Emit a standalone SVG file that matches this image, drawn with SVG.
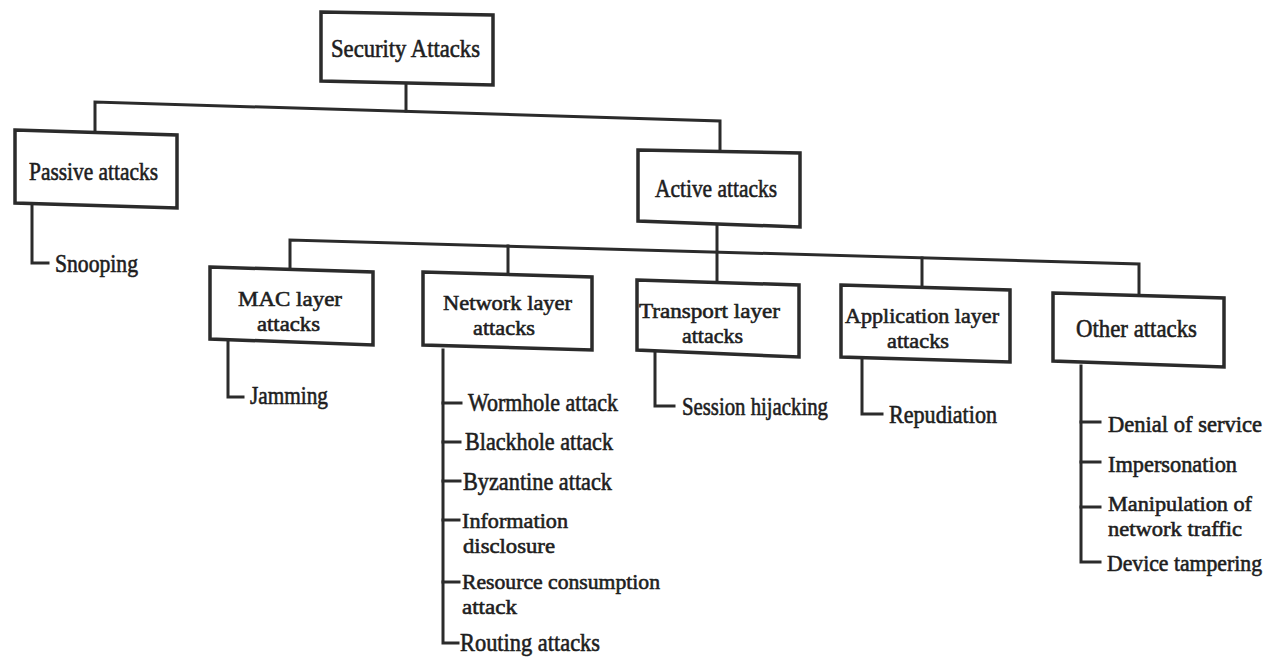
<svg xmlns="http://www.w3.org/2000/svg" width="1273" height="660" viewBox="0 0 1273 660">
<style>
.box{fill:#fff;stroke:#2b2b2b;stroke-width:3.5;stroke-linejoin:miter}
.ln{fill:none;stroke:#2b2b2b;stroke-width:3;stroke-linejoin:miter;stroke-linecap:square}
text{font-family:"Liberation Serif","Times New Roman",serif;font-size:25px;fill:#1e1e1e;stroke:#1e1e1e;stroke-width:0.6}
text.sm{font-size:23px}
text.two{font-size:22px}
</style>
<rect width="1273" height="660" fill="#fff"/>
<g id="connectors">
<polyline class="ln" points="406,84 406,111"/>
<polyline class="ln" points="95,131 95,102 720,121 720,151"/>
<polyline class="ln" points="717,224 717,282"/>
<polyline class="ln" points="290,268 290,240 1139,264 1139,294"/>
<polyline class="ln" points="508,246 508,273"/>
<polyline class="ln" points="922,258 922,287"/>
<polyline class="ln" points="32,206 32,263 48,263"/>
<polyline class="ln" points="228,342 228,397 243,397"/>
<polyline class="ln" points="443,350 443,643 458,643"/>
<polyline class="ln" points="443,403 461,403"/>
<polyline class="ln" points="443,442 460,442"/>
<polyline class="ln" points="443,481 460,481"/>
<polyline class="ln" points="443,520 459,520"/>
<polyline class="ln" points="443,582 459,582"/>
<polyline class="ln" points="655,352 655,406 674,406"/>
<polyline class="ln" points="862,360 862,414 882,414"/>
<polyline class="ln" points="1081,366 1081,562 1100,562"/>
<polyline class="ln" points="1081,422 1100,422"/>
<polyline class="ln" points="1081,462 1100,462"/>
<polyline class="ln" points="1081,507 1100,507"/>
</g>
<g id="security-attacks">
<polygon class="box" points="321,12 493,15 493,85 321,81"/>
<text x="331" y="57" textLength="149" lengthAdjust="spacingAndGlyphs">Security Attacks</text>
</g>
<g id="passive-attacks">
<polygon class="box" points="15,130 177,135 177,208 15,203"/>
<text x="29" y="180" textLength="129" lengthAdjust="spacingAndGlyphs">Passive attacks</text>
</g>
<g id="snooping">
<text x="55" y="272" textLength="83" lengthAdjust="spacingAndGlyphs">Snooping</text>
</g>
<g id="active-attacks">
<polygon class="box" points="638,150 800,153 800,227 638,221"/>
<text x="655" y="197" textLength="122" lengthAdjust="spacingAndGlyphs">Active attacks</text>
</g>
<g id="mac-layer">
<polygon class="box" points="210,267 373,272 373,345 210,339"/>
<text class="two"><tspan x="238" y="306" textLength="104" lengthAdjust="spacingAndGlyphs">MAC layer</tspan><tspan x="257" y="331" textLength="63" lengthAdjust="spacingAndGlyphs">attacks</tspan></text>
</g>
<g id="jamming">
<text x="250" y="404" textLength="78" lengthAdjust="spacingAndGlyphs">Jamming</text>
</g>
<g id="network-layer">
<polygon class="box" points="423,272 592,277 592,350 423,345"/>
<text class="two"><tspan x="443" y="310" textLength="129" lengthAdjust="spacingAndGlyphs">Network layer</tspan><tspan x="473" y="335" textLength="62" lengthAdjust="spacingAndGlyphs">attacks</tspan></text>
</g>
<g id="network-items">
<text x="468" y="411" textLength="150" lengthAdjust="spacingAndGlyphs">Wormhole attack</text>
<text x="465" y="450" textLength="148" lengthAdjust="spacingAndGlyphs">Blackhole attack</text>
<text x="463" y="490" textLength="149" lengthAdjust="spacingAndGlyphs">Byzantine attack</text>
<text class="two"><tspan x="462" y="528" textLength="106" lengthAdjust="spacingAndGlyphs">Information</tspan><tspan x="463" y="553" textLength="92" lengthAdjust="spacingAndGlyphs">disclosure</tspan></text>
<text class="two"><tspan x="462" y="589" textLength="198" lengthAdjust="spacingAndGlyphs">Resource consumption</tspan><tspan x="462" y="614" textLength="55" lengthAdjust="spacingAndGlyphs">attack</tspan></text>
<text x="460" y="651" textLength="140" lengthAdjust="spacingAndGlyphs">Routing attacks</text>
</g>
<g id="transport-layer">
<polygon class="box" points="637,280 799,285 799,357 637,350"/>
<text class="two"><tspan x="639" y="318" textLength="141" lengthAdjust="spacingAndGlyphs">Transport layer</tspan><tspan x="682" y="343" textLength="61" lengthAdjust="spacingAndGlyphs">attacks</tspan></text>
</g>
<g id="session-hijacking">
<text x="682" y="415" textLength="146" lengthAdjust="spacingAndGlyphs">Session hijacking</text>
</g>
<g id="application-layer">
<polygon class="box" points="841,285 1010,290 1010,362 841,357"/>
<text class="two"><tspan x="845" y="323" textLength="154" lengthAdjust="spacingAndGlyphs">Application layer</tspan><tspan x="887" y="348" textLength="62" lengthAdjust="spacingAndGlyphs">attacks</tspan></text>
</g>
<g id="repudiation">
<text x="889" y="423" textLength="108" lengthAdjust="spacingAndGlyphs">Repudiation</text>
</g>
<g id="other-attacks">
<polygon class="box" points="1053,293 1224,298 1224,367 1053,361"/>
<text x="1076" y="337" textLength="121" lengthAdjust="spacingAndGlyphs">Other attacks</text>
</g>
<g id="other-items">
<text class="sm" x="1108" y="432" textLength="154" lengthAdjust="spacingAndGlyphs">Denial of service</text>
<text class="sm" x="1108" y="472" textLength="129" lengthAdjust="spacingAndGlyphs">Impersonation</text>
<text class="two"><tspan x="1108" y="511" textLength="144" lengthAdjust="spacingAndGlyphs">Manipulation of</tspan><tspan x="1108" y="536" textLength="134" lengthAdjust="spacingAndGlyphs">network traffic</tspan></text>
<text class="sm" x="1107" y="571" textLength="155" lengthAdjust="spacingAndGlyphs">Device tampering</text>
</g>
</svg>
